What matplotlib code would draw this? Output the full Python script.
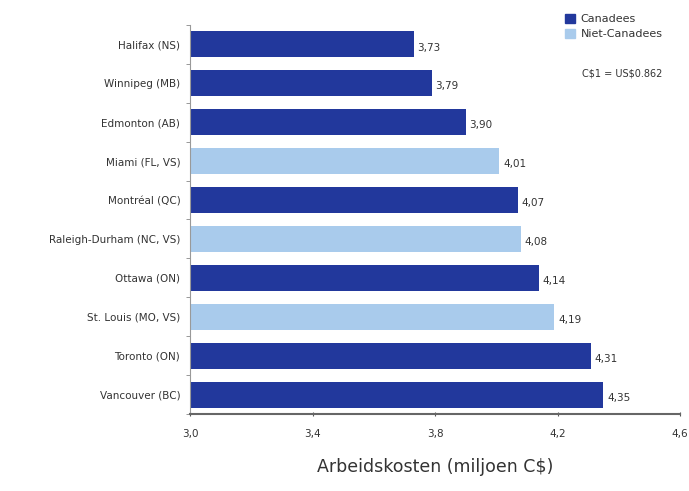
"""Horizontal bar chart of labour costs per city, Canadian vs non-Canadian."""

import matplotlib

matplotlib.use("Agg")
import matplotlib.pyplot as plt
from matplotlib.patches import Patch

cities = [
    "Halifax (NS)",
    "Winnipeg (MB)",
    "Edmonton (AB)",
    "Miami (FL, VS)",
    "Montréal (QC)",
    "Raleigh-Durham (NC, VS)",
    "Ottawa (ON)",
    "St. Louis (MO, VS)",
    "Toronto (ON)",
    "Vancouver (BC)",
]
costs = [3.73, 3.79, 3.90, 4.01, 4.07, 4.08, 4.14, 4.19, 4.31, 4.35]
canadian = [True, True, True, False, True, False, True, False, True, True]
x_ticks = [3.0, 3.4, 3.8, 4.2, 4.6]

DARK = "#22389c"
LIGHT = "#a9cbec"
TEXT = "#333333"

fig = plt.figure(figsize=(6.89, 4.91), dpi=100)
ax = fig.add_axes([190 / 689, 1 - 414 / 491, 490 / 689, 389 / 491])

ypos = list(range(len(cities)))
colors = [DARK if c else LIGHT for c in canadian]
ax.barh(ypos, costs, height=0.67, color=colors, left=0)
for y, v in zip(ypos, costs):
    ax.text(v + 0.012, y + 0.08, f"{v:.2f}".replace(".", ","), va="center",
            ha="left", fontsize=7.5, color=TEXT)

ax.set_xlim(3.0, 4.6)
ax.set_ylim(len(cities) - 0.5, -0.5)
ax.set_yticks(ypos)
ax.set_yticklabels(cities, fontsize=7.5, color=TEXT)
ax.set_yticks([i - 0.5 for i in range(len(cities) + 1)], minor=True)
ax.tick_params(axis="y", which="major", length=0, pad=7)
ax.tick_params(axis="y", which="minor", length=3, color="#888888", direction="out")
ax.set_xticks(x_ticks)
ax.set_xticklabels([f"{t:.1f}".replace(".", ",") for t in x_ticks],
                   fontsize=7.5, color=TEXT)
ax.tick_params(axis="x", length=3, direction="inout", color="#555555", pad=9)
ax.set_xlabel("Arbeidskosten (miljoen C\\$)", fontsize=12.5, color=TEXT, labelpad=14)

for side in ("top", "right"):
    ax.spines[side].set_visible(False)
ax.spines["left"].set_color("#999999")
ax.spines["bottom"].set_color("#666666")
ax.spines["bottom"].set_linewidth(1.5)

handles = [Patch(color=DARK, label="Canadees"), Patch(color=LIGHT, label="Niet-Canadees")]
fig.legend(handles=handles, loc="upper left", bbox_to_anchor=(555 / 689, 1 - 4 / 491),
           frameon=False, fontsize=8, handlelength=0.9, handleheight=0.9,
           handletextpad=0.5, labelspacing=0.4, labelcolor=TEXT)
fig.text(582 / 689, 1 - 73 / 491, "C\\$1 = US\\$0.862", fontsize=7, color=TEXT,
         va="center", ha="left")

fig.savefig("out.png", dpi=100)
